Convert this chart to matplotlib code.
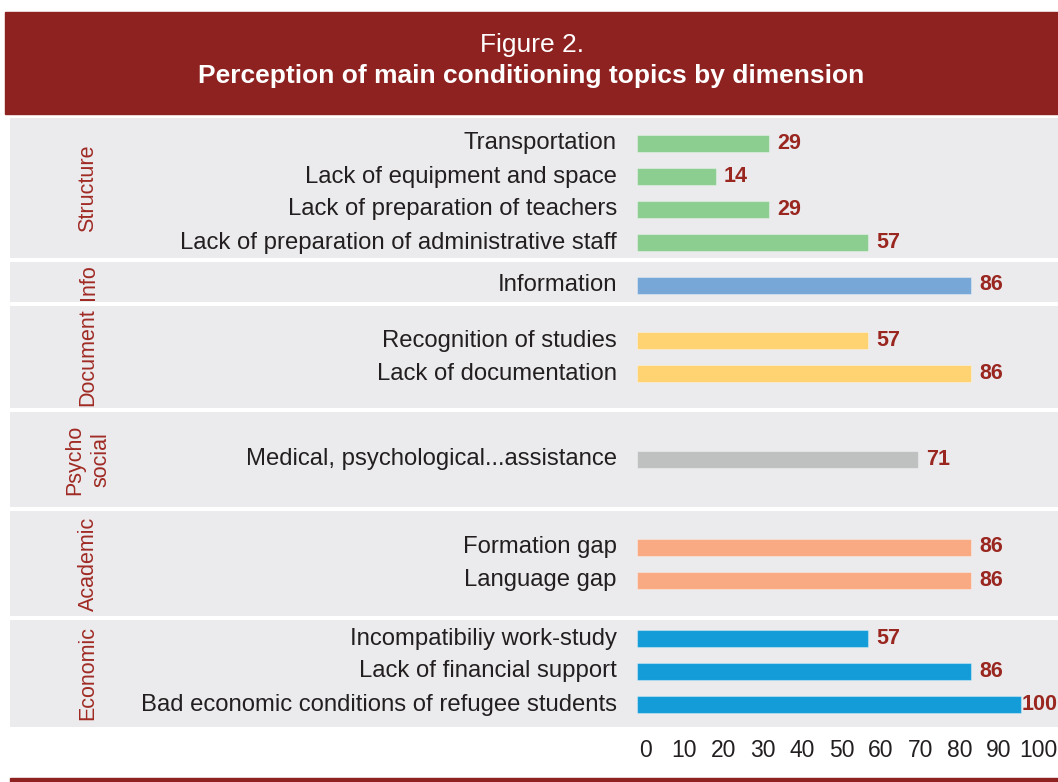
import matplotlib
matplotlib.use("Agg")
import matplotlib.pyplot as plt
import matplotlib.transforms as mtransforms
from matplotlib.patches import Rectangle

# ---------------- data ----------------
dimensions = ["Structure", "Info", "Document", "Psycho\nsocial", "Academic", "Economic"]
topics = [
    ["Transportation", "Lack of equipment and space", "Lack of preparation of teachers",
     "Lack of preparation of administrative staff"],
    ["Information"],
    ["Recognition of studies", "Lack of documentation"],
    ["Medical, psychological...assistance"],
    ["Formation gap", "Language gap"],
    ["Incompatibiliy work-study", "Lack of financial support",
     "Bad economic conditions of refugee students"],
]
values = [
    [29, 14, 29, 57],
    [86],
    [57, 86],
    [71],
    [86, 86],
    [57, 86, 100],
]
tick_values = [0, 10, 20, 30, 40, 50, 60, 70, 80, 90, 100]
title_line1 = "Figure 2."
title_line2 = "Perception of main conditioning topics by dimension"

# ---------------- style / layout ----------------
bar_colors = ["#8CCE90", "#76A7D7", "#FFD272", "#BFC1C0", "#F9AA82", "#139CD8"]
HEADER_RED = "#8E2220"
PANEL_GRAY = "#EBEBED"
VALUE_RED = "#9A2620"
GROUP_RED = "#A02A24"
TEXT_DARK = "#231F20"
FONT = "Liberation Sans"

W, H = 1058, 782
panel_heights = [140, 40, 102, 95, 105, 107]   # px
row_shift = [5, 3, 0, 0, 0, -2]                # px offset of rows inside each panel
GAP = 4
TOP = 118
ROW_STEP = 33
BAR_H = 17
BAR_BASE = -8.2           # bars in the original start slightly left of zero
PX_PER_UNIT = 3.547
ZERO_PX = 666
TICK_ZERO_PX = 645
TICK_PX_PER_UNIT = 3.93

fig = plt.figure(figsize=(W / 100, H / 100), dpi=100)
fig.patch.set_facecolor("white")

def fx(px):
    return px / W

def fy(py):
    return 1 - py / H

# header band
fig.patches.append(Rectangle((fx(5), fy(114)), fx(W - 5), 102 / H,
                             transform=fig.transFigure, color=HEADER_RED, zorder=0))
fig.text(0.5 + fx(5) / 2, fy(45), title_line1, color="white", fontsize=19,
         family=FONT, ha="center", va="center")
fig.text(0.5 + fx(5) / 2, fy(76), title_line2, color="white", fontsize=19,
         family=FONT, weight="bold", ha="center", va="center")
# bottom red rule
fig.patches.append(Rectangle((fx(10), 0), fx(W - 10), 4.5 / H,
                             transform=fig.transFigure, color=HEADER_RED, zorder=0))

# main axes: x in data units, y in pixel rows
y_top, y_bot = TOP, TOP + sum(panel_heights) + GAP * (len(panel_heights) - 1)
ax = fig.add_axes([fx(10), fy(y_bot), fx(W - 10), (y_bot - y_top) / H])
ax.set_xlim((10 - ZERO_PX) / PX_PER_UNIT, (W - ZERO_PX) / PX_PER_UNIT)
ax.set_ylim(y_bot, y_top)
ax.axis("off")

blend = mtransforms.blended_transform_factory(ax.transAxes, ax.transData)
label_tr = mtransforms.offset_copy(ax.transData, fig=fig, x=-20, y=0, units="dots")

vmax = max(max(v) for v in values)
cur = TOP
for gi, (dim, items, vals) in enumerate(zip(dimensions, topics, values)):
    h = panel_heights[gi]
    ax.axhspan(cur + h, cur, color=PANEL_GRAY, zorder=0, lw=0)
    center = cur + h / 2
    n = len(items)
    ys = [center + row_shift[gi] + (i - (n - 1) / 2) * ROW_STEP for i in range(n)]
    ax.barh(ys, [v - BAR_BASE for v in vals], left=BAR_BASE, height=BAR_H,
            color=bar_colors[gi], edgecolor=(1, 1, 1, 0.35), linewidth=0.8, zorder=2)
    for y, name, v in zip(ys, items, vals):
        ax.text(BAR_BASE, y, name, transform=label_tr, ha="right", va="center",
                fontsize=17.2, family=FONT, color=TEXT_DARK)
        off = 1 if v == vmax else 8
        vt = mtransforms.offset_copy(ax.transData, fig=fig, x=off, y=0, units="dots")
        ax.text(v, y, str(v), transform=vt, ha="left", va="center", fontsize=15.5,
                family=FONT, weight="bold", color=VALUE_RED)
    ax.text((88 - 10) / (W - 10), center, dim, transform=blend, rotation=90,
            ha="center", va="center", multialignment="center", fontsize=15.5,
            family=FONT, color=GROUP_RED, linespacing=1.3)
    cur += h + GAP

# tick label axis
tax = fig.add_axes([fx(10), fy(756), fx(W - 10), 20 / H])
tax.set_xlim((10 - TICK_ZERO_PX) / TICK_PX_PER_UNIT, (W - TICK_ZERO_PX) / TICK_PX_PER_UNIT)
tax.set_ylim(0, 1)
tax.patch.set_alpha(0)
for s in tax.spines.values():
    s.set_visible(False)
tax.set_yticks([])
tax.set_xticks(tick_values)
tax.set_xticklabels([str(t) for t in tick_values], fontsize=16.5, family=FONT, color=TEXT_DARK)
tax.xaxis.set_ticks_position("top")
tax.tick_params(axis="x", which="both", length=0, labeltop=True, labelbottom=False, pad=-19)

fig.savefig("out.png", dpi=100, facecolor="white")
